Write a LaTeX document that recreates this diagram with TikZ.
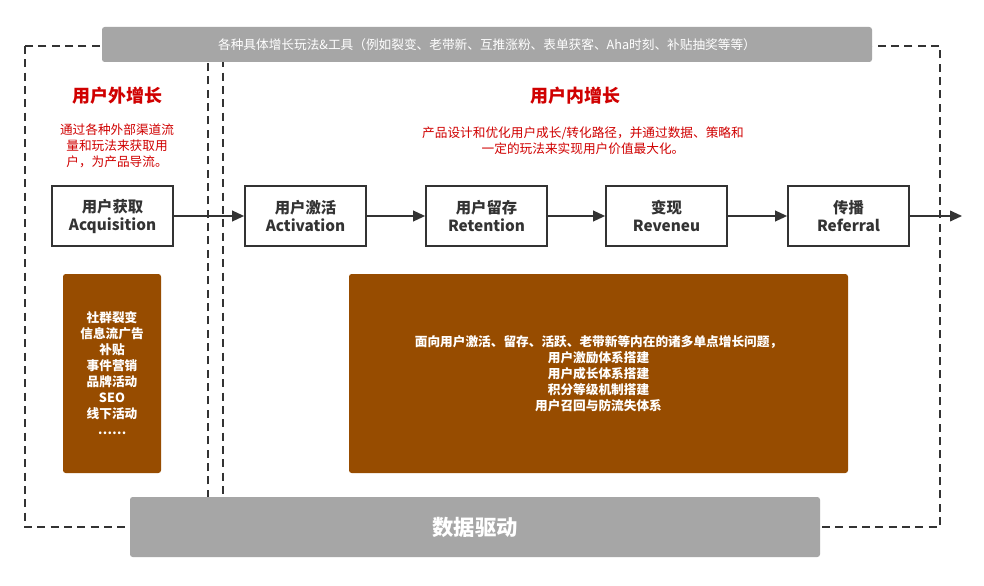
\documentclass[tikz,border=0pt]{standalone}
\usepackage{fontspec}
\setmainfont{Noto Sans CJK SC}
\usetikzlibrary{arrows.meta}
\definecolor{barg}{HTML}{A6A6A6}
\definecolor{brn}{HTML}{974C00}
\definecolor{rd}{HTML}{D00000}
\definecolor{tx}{HTML}{333333}
\tikzset{
 dbox/.style={draw=black!80,line width=1.1pt,dash pattern=on 6pt off 4pt},
 stage/.style={draw=tx,line width=1.3pt,fill=white,minimum width=90.75pt,minimum height=45pt,align=center,font=\bfseries\fontsize{11.5}{13.5}\selectfont,text=tx,inner sep=0pt},
 bar/.style={fill=barg,rounded corners=2pt,text=white,inner sep=0pt},
 brown/.style={fill=brn,rounded corners=2pt,text=white,align=center,inner sep=0pt,font=\fontsize{9.5}{12}\selectfont},
 flow/.style={-{Triangle[length=9pt,width=8pt]},line width=1.3pt,draw=tx},
 red/.style={text=rd,align=center}
}
\begin{document}
\begin{tikzpicture}[x=0.75pt,y=-0.75pt]
\useasboundingbox[fill=white] (0,0) rectangle (984,585);
\draw[dbox] (25,46) rectangle (208,527);
\draw[dbox] (223,46) rectangle (940,527);
\node[bar,minimum width=577.5pt,minimum height=26.25pt,font=\fontsize{9.5}{11}\selectfont] (top) at (487,44.5) {各种具体增长玩法\&工具（例如裂变、老带新、互推涨粉、表单获客、Aha时刻、补贴抽奖等等）};
\node[bar,minimum width=517.5pt,minimum height=45pt,font=\bfseries\fontsize{16}{18}\selectfont] (bot) at (475,527) {数据驱动};
\node[red,font=\bfseries\fontsize{13.5}{15}\selectfont] (t1) at (117,96) {用户外增长};
\node[red,font=\fontsize{9.5}{12}\selectfont] (s1) at (117,146) {通过各种外部渠道流\\量和玩法来获取用\\户，为产品导流。};
\node[red,font=\bfseries\fontsize{13.5}{15}\selectfont] (t2) at (575,96) {用户内增长};
\node[red,font=\fontsize{9.5}{12}\selectfont] (s2) at (583,141) {产品设计和优化用户成长/转化路径，并通过数据、策略和\\一定的玩法来实现用户价值最大化。};
\node[stage] (a) at (112.5,216) {用户获取\\Acquisition};
\node[stage] (b) at (305.5,216) {用户激活\\Activation};
\node[stage] (c) at (486.5,216) {用户留存\\Retention};
\node[stage] (d) at (666.5,216) {变现\\Reveneu};
\node[stage] (e) at (848.5,216) {传播\\Referral};
\coordinate (end) at (962,216);
\draw[flow] (a) -- (b);
\draw[flow] (b) -- (c);
\draw[flow] (c) -- (d);
\draw[flow] (d) -- (e);
\draw[flow] (e) -- (end);
\node[brown,minimum width=73.5pt,minimum height=149.25pt,font=\bfseries\fontsize{9.5}{12}\selectfont] (l) at (112,373.5) {社群裂变\\信息流广告\\补贴\\事件营销\\品牌活动\\SEO\\线下活动\\……};
\node[brown,minimum width=374.25pt,minimum height=149.25pt,font=\bfseries\fontsize{9.5}{12}\selectfont] (r) at (598.5,373.5) {面向用户激活、留存、活跃、老带新等内在的诸多单点增长问题，\\用户激励体系搭建\\用户成长体系搭建\\积分等级机制搭建\\用户召回与防流失体系};
\end{tikzpicture}
\end{document}
